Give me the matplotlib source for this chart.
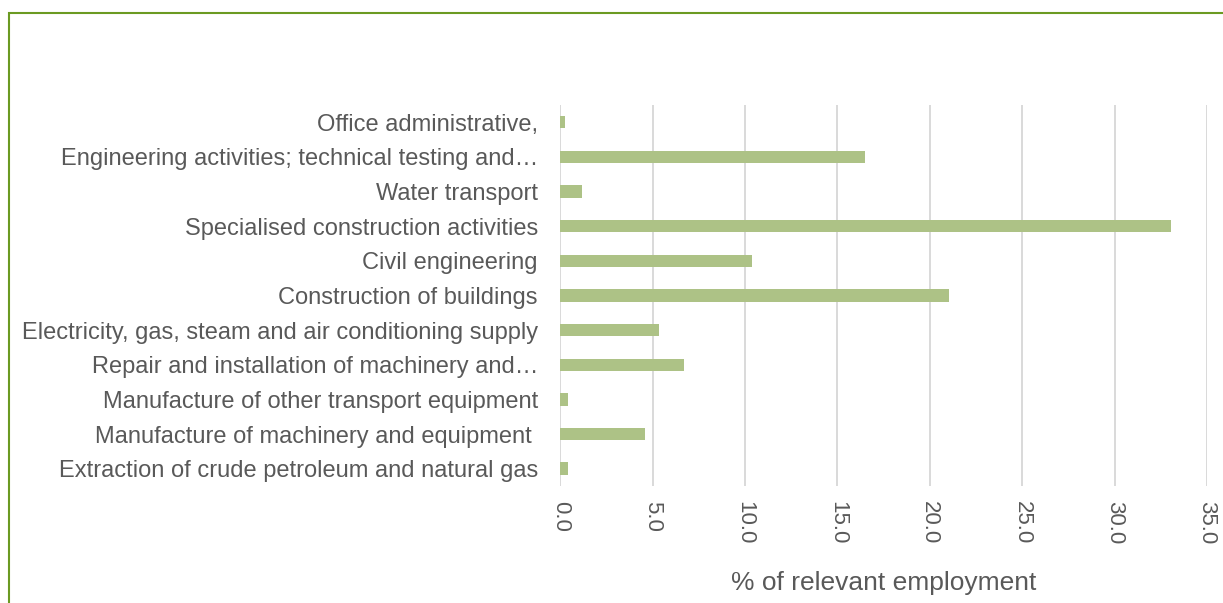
import matplotlib.pyplot as plt
from matplotlib.patches import Rectangle

plt.rcParams['font.family'] = ['Liberation Sans', 'DejaVu Sans']

# categories listed bottom to top, as drawn
sectors = ['Extraction of crude petroleum and natural gas',
           'Manufacture of machinery and equipment ',
           'Manufacture of other transport equipment',
           'Repair and installation of machinery and\u2026',
           'Electricity, gas, steam and air conditioning supply',
           'Construction of buildings',
           'Civil engineering',
           'Specialised construction activities',
           'Water transport',
           'Engineering activities; technical testing and\u2026',
           'Office administrative,']
share = [0.45, 4.58, 0.40, 6.72, 5.36, 21.05, 10.36, 33.07, 1.17, 16.47, 0.26]
xticks = [0, 5, 10, 15, 20, 25, 30, 35]

fig = plt.figure(figsize=(12.23, 6.03), dpi=100)
ax = fig.add_axes([0.458, 0.194, 0.529, 0.632])

# green frame round the chart area (right and bottom edges fall outside the picture)
fig.patches.append(Rectangle((9/1223, -0.1), 1.2, 1.1 - 13/603, transform=fig.transFigure,
                             fill=False, edgecolor='#6b9a22', linewidth=1.5))

ypos = range(len(sectors))
ax.barh(ypos, share, height=0.36, color='#adc286', zorder=3)

ax.set_xlim(0, 35)
ax.set_ylim(-0.5, len(sectors) - 0.5)
ax.set_xticks(xticks)
ax.set_xticklabels(['%.1f' % t for t in xticks], rotation=270, fontsize=16, color='#595959')
ax.set_yticks(list(ypos))
ax.set_yticklabels(sectors, fontsize=17, color='#595959')
ax.tick_params(axis='y', length=0, pad=16)
ax.tick_params(axis='x', length=0, pad=11)
ax.grid(axis='x', color='#d9d9d9', linewidth=1.4, zorder=0)
for s in ax.spines.values():
    s.set_visible(False)
ax.set_xlabel('% of relevant employment', fontsize=19, color='#595959', labelpad=19)

fig.savefig('out.png', dpi=100)
